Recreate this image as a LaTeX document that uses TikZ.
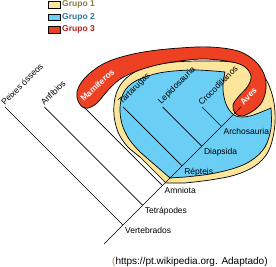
\documentclass[tikz,border=0pt]{standalone}
\usepackage{fontspec}
\setmainfont{Liberation Sans}
\definecolor{amarelo}{HTML}{FDE59B}
\definecolor{azul}{HTML}{6ACEF5}
\definecolor{vermelho}{HTML}{EE4124}
\definecolor{textoum}{HTML}{8C7B3E}
\definecolor{textodois}{HTML}{2E7497}
\definecolor{textotres}{HTML}{B51F1F}
\definecolor{laranja}{HTML}{C8782C}

\begin{document}
\begin{tikzpicture}[x=1pt,y=-1pt,
  ramo/.style={line width=0.7pt},
  contorno/.style={draw=black,line width=0.7pt},
  folha/.style={anchor=south west,rotate=45,inner sep=0.6pt,font=\fontsize{8.5}{10}\selectfont},
  clado/.style={anchor=north west,inner sep=1pt,xshift=1pt,yshift=-1pt,font=\fontsize{8.5}{10}\selectfont},
  branco/.style={text=white,inner sep=0.5pt,font=\fontsize{8.5}{10}\selectfont\bfseries},
  legenda/.style={anchor=west,inner sep=1pt,font=\fontsize{8.5}{10}\selectfont\bfseries}]
  \useasboundingbox (0,0) rectangle (276,267);

  % grupo 1
  \filldraw[fill=amarelo,contorno] (166,183) -- plot[smooth,tension=0.6] coordinates {(140,157) (127,146) (118,132) (114,115) (115,98) (121,84) (133,73) (150,66) (175,62) (205,61) (232,62) (252,67) (265,78) (272,94) (275,112) (274,132) (268,152) (255,166) (235,175) (210,180) (185,183)} -- cycle;
  % grupo 2
  \filldraw[fill=azul,contorno] (170,178) -- plot[smooth,tension=0.6] coordinates {(140,152) (129,139) (122,124) (120,108) (123,94) (131,84) (145,77) (165,72) (195,70) (225,72)} -- plot[smooth,tension=0.6] coordinates {(225,72) (223,85) (224,97) (228,108) (236,116) (250,116) (271,108)} -- plot[smooth,tension=0.6] coordinates {(271,108) (271,128) (265,147) (252,160) (235,168) (210,174) (185,177)} -- cycle;
  % grupo 3
  \filldraw[fill=vermelho,contorno] plot[smooth cycle,tension=0.6] coordinates {(84,108) (78,101) (77,92) (81,83) (90,73) (105,63) (125,56) (150,51) (180,48) (210,47) (238,51) (255,61) (264,74) (266,88) (262,102) (253,111) (242,116) (235,113) (233,105) (239,96) (248,86) (251,76) (245,67) (232,62) (205,59) (180,61) (157,65) (137,71) (122,78) (112,86) (104,95) (97,103) (91,107)};

  % tronco
  \coordinate (raiz) at (104,244);
  \coordinate (vert) at (123,225);
  \coordinate (tetr) at (142.7,205.3);
  \coordinate (amni) at (162.4,185.6);
  \coordinate (rept) at (182.1,165.9);
  \coordinate (diap) at (201.8,146.2);
  \coordinate (arch) at (221.5,126.5);
  \coordinate (aves) at (241,107);
  \draw[ramo] (raiz) -- (aves);

  % ramos
  \coordinate (peixes) at (5,107);
  \coordinate (anfib) at (44.4,107);
  \coordinate (mamif) at (83.8,107);
  \coordinate (tartar) at (123.2,107);
  \coordinate (lepido) at (162.6,107);
  \coordinate (croco) at (202,107);
  \draw[ramo] (vert) -- (peixes);
  \draw[ramo] (tetr) -- (anfib);
  \draw[ramo] (amni) -- (mamif);
  \draw[ramo] (rept) -- (tartar);
  \draw[ramo] (diap) -- (lepido);
  \draw[ramo] (arch) -- (croco);

  \node[folha] (lpeixes) at (peixes) {Peixes ósseos};
  \node[folha] (lanfib) at (anfib) {Anfíbios};
  \node[folha] (ltartar) at (tartar) {Tartarugas};
  \node[folha] (llepido) at (lepido) {Lepidosauria};
  \node[folha] (lcroco) at (croco) {Crocodilianos};
  \node[branco,anchor=south west,rotate=43] (lmamif) at (84,103) {Mamíferos};
  \node[branco,rotate=48] (laves) at (248.5,96) {Aves};

  \node[clado] (lvert) at (vert) {Vertebrados};
  \node[clado] (ltetr) at (tetr) {Tetrápodes};
  \node[clado] (lamni) at (amni) {Amniota};
  \node[clado] (lrept) at (rept) {Répteis};
  \node[clado] (ldiap) at (diap) {Diapsida};
  \node[clado] (larch) at (arch) {Archosauria};

  % legenda
  \filldraw[fill=amarelo,draw=black,line width=0.5pt] (48,1.5) rectangle (60,8);
  \filldraw[fill=azul,draw=black,line width=0.5pt] (48,14) rectangle (60,20.5);
  \filldraw[fill=vermelho,draw=black,line width=0.5pt] (48,26.5) rectangle (60,33);
  \node[legenda,text=textoum] (g1) at (61,4.75) {Grupo 1};
  \node[legenda,text=textodois] (g2) at (61,17.25) {Grupo 2};
  \node[legenda,text=textotres] (g3) at (61,29.75) {Grupo 3};

  \node[anchor=west,inner sep=0pt,font=\fontsize{10}{12}\selectfont] (fonte) at (112,262) {\textcolor{laranja}{(}https://pt.wikipedia.org. Adaptado)};
\end{tikzpicture}
\end{document}
